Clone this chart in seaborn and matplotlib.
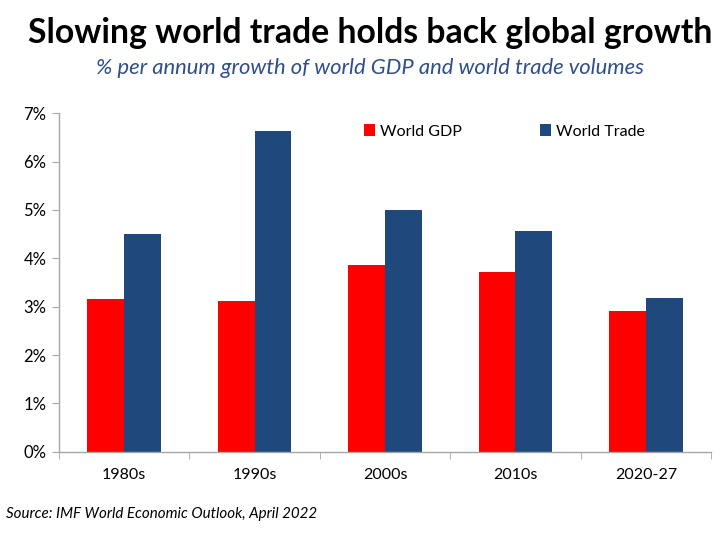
import matplotlib
matplotlib.use("Agg")
import matplotlib.pyplot as plt
import seaborn as sns
import pandas as pd
from matplotlib.ticker import FuncFormatter, FixedLocator

categories = ["1980s", "1990s", "2000s", "2010s", "2020-27"]
world_gdp = [3.15, 3.11, 3.86, 3.72, 2.91]
world_trade = [4.50, 6.64, 4.99, 4.56, 3.17]
series_names = ["World GDP", "World Trade"]
yticks = [0, 1, 2, 3, 4, 5, 6, 7]

df = pd.DataFrame({
    "period": categories * 2,
    "series": [series_names[0]] * len(categories) + [series_names[1]] * len(categories),
    "value": world_gdp + world_trade,
})

sns.set_style("white")
plt.rcParams["font.family"] = ["Lato", "DejaVu Sans"]

fig = plt.figure(figsize=(7.2, 5.35), dpi=100)
ax = fig.add_axes([0.082, 0.1557, 0.9055, 0.6325])

sns.barplot(data=df, x="period", y="value", hue="series",
            palette=["#FF0000", "#1F497D"], width=0.565, gap=0,
            saturation=1, ax=ax, legend=True, linewidth=0)

ax.set_ylim(0, 7)
ax.set_xlim(-0.5, 4.5)
ax.yaxis.set_major_locator(FixedLocator(yticks))
ax.yaxis.set_major_formatter(FuncFormatter(lambda v, p: f"{v:.0f}%"))
ax.set_xlabel("")
ax.set_ylabel("")

for s in ["top", "right"]:
    ax.spines[s].set_visible(False)
for s in ["left", "bottom"]:
    ax.spines[s].set_color("#A6A6A6")
    ax.spines[s].set_linewidth(1.0)

ax.tick_params(axis="y", which="major", left=True, length=5, color="#A6A6A6",
               labelsize=12, pad=4, labelcolor="#000000")
ax.set_xticks([0, 1, 2, 3, 4])
ax.set_xticklabels(categories)
ax.tick_params(axis="x", which="major", bottom=False, labelsize=11.5, pad=8,
               labelcolor="#000000")
ax.set_xticks([-0.5, 0.5, 1.5, 2.5, 3.5, 4.5], minor=True)
ax.tick_params(axis="x", which="minor", bottom=True, length=5, color="#A6A6A6")

leg = ax.legend(loc="center left", bbox_to_anchor=(0.468, 0.946), ncol=2,
                frameon=False, fontsize=11.5, handlelength=0.7, handleheight=0.7,
                handletextpad=0.3, columnspacing=4.9, borderaxespad=0, borderpad=0)
for t in leg.get_texts():
    t.set_color("#000000")

fig.text(0.514, 0.938, "Slowing world trade holds back global growth",
         ha="center", va="center", fontsize=24.3, fontweight="bold", color="#000000")
fig.text(0.514, 0.873, "% per annum growth of world GDP and world trade volumes",
         ha="center", va="center", fontsize=15.8, fontstyle="italic", color="#2F4F8A")
fig.text(0.008, 0.040, "Source: IMF World Economic Outlook, April 2022",
         ha="left", va="center", fontsize=10.9, fontstyle="italic", color="#000000")

fig.savefig("out.png", dpi=100, facecolor="white")
